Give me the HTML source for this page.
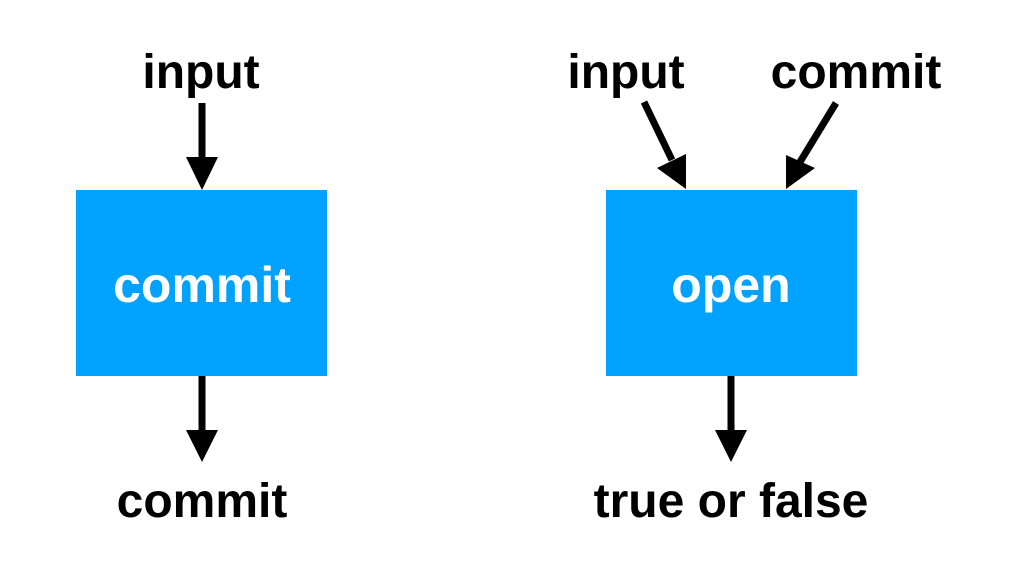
<!DOCTYPE html>
<html><head><style>body{margin:0;background:#fff}svg{display:block}</style></head>
<body>
<svg width="1010" height="574" viewBox="0 0 1010 574" xmlns="http://www.w3.org/2000/svg" font-family="Liberation Sans, sans-serif" font-weight="bold">
<rect x="76" y="190" width="251" height="186" fill="#00A2FF"/>
<rect x="606" y="190" width="251" height="186" fill="#00A2FF"/>
<g fill="#000" text-anchor="middle" font-size="48">
<text x="201" y="88">input</text>
<text x="202" y="517">commit</text>
<text x="626" y="88">input</text>
<text x="856" y="88">commit</text>
<text x="731" y="517">true or false</text>
</g>
<g fill="#fff" text-anchor="middle" font-size="50">
<text x="202" y="302">commit</text>
<text x="731" y="302">open</text>
</g>
<g stroke="#000" stroke-width="7">
<line x1="202" y1="103" x2="202" y2="160"/>
<line x1="202" y1="376" x2="202" y2="432"/>
<line x1="731" y1="376" x2="731" y2="432"/>
<line x1="644" y1="102" x2="672" y2="160"/>
<line x1="836" y1="103" x2="800" y2="162"/>
</g>
<g fill="#000">
<polygon points="186,157 218,157 202,190"/>
<polygon points="186,430 218,430 202,462"/>
<polygon points="715,430 747,430 731,462"/>
<polygon points="657,168 686,154 686,189"/>
<polygon points="786,155 815,168 786,189"/>
</g>
</svg>
</body></html>
